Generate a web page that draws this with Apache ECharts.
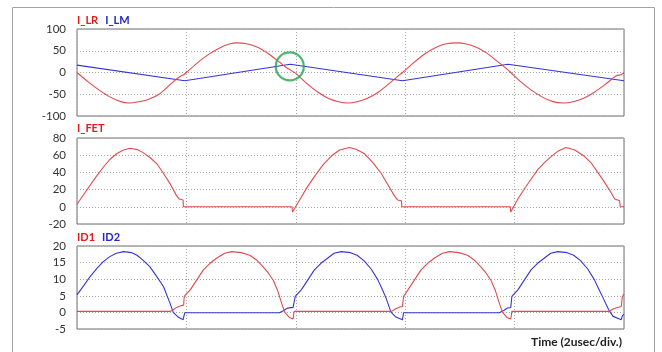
<!DOCTYPE html>
<html>
<head>
<meta charset="utf-8">
<script src="https://cdn.jsdelivr.net/npm/echarts@6/dist/echarts.min.js"></script>
<style>html,body{margin:0;padding:0;background:#fff}#c{width:662px;height:352px}</style>
</head>
<body>
<div id="c"></div>
<script>
// ---- data (time in usec, currents in A) ----
const tLR = [0,0.2,0.4,0.6,0.8,0.95,1.1,1.3,1.5,1.7,1.82,1.9,1.95,2.0,2.2,2.4,2.6,2.8,2.93,3.1,3.3,3.5,3.7,3.82,3.9,3.95,4.0,4.2,4.4,4.6,4.8,4.95,5.1,5.3,5.5,5.7,5.85,5.95,6.15,6.35,6.55,6.75,6.95,7.1,7.3,7.5,7.7,7.85,7.93,8.1,8.3,8.5,8.7,8.9,9.05,9.25,9.45,9.65,9.8,9.87,9.95,10];
const iLR = [0,-21,-40,-56,-67,-70,-68,-62,-50,-28,-15,-8,-5,0,22,41,56,66,68,66,58,43,24,12,6,2,-2,-25,-45,-60,-68,-70,-68,-60,-46,-26,-10,0,22,42,57,66,68,66,58,44,24,9,0,-20,-40,-56,-67,-70,-68,-60,-46,-28,-13,-7,-5,0];

const tLM = [0,1.97,3.9,5.95,7.88,10];
const iLM = [17,-19,19,-19,19,-19];

const markT = [3.89];
const markV = [14];

const tFET = [0,0.12,0.24,0.36,0.48,0.6,0.73,0.85,0.97,1.1,1.21,1.34,1.46,1.58,1.7,1.82,1.87,1.94,1.945,3.93,3.94,4.08,4.2,4.35,4.5,4.65,4.8,4.98,5.1,5.25,5.4,5.56,5.68,5.8,5.86,5.93,5.94,7.92,7.93,8.06,8.18,8.3,8.42,8.54,8.66,8.8,8.94,9.1,9.27,9.4,9.52,9.64,9.76,9.83,9.92,9.93,10];
const iFET = [3,14,25,36,46,55,62,66,68,66.5,63,57,50,39,27,13,9,8,0,0,-6,9,22,36,49,59,66,69,67,62,52,39,26,13,8,7,0,0,-6,9,21,32,43,51,58,65,69,66,59,51,40,29,17,9,7,0,0];

const tD1 = [0,1.7,1.76,1.82,1.9,1.95,1.96,2.07,2.19,2.31,2.43,2.55,2.7,2.83,3.0,3.16,3.28,3.4,3.5,3.59,3.67,3.74,3.8,3.88,3.95,3.97,5.75,5.82,5.9,5.95,5.97,6.05,6.17,6.29,6.41,6.53,6.68,6.81,6.98,7.14,7.26,7.38,7.48,7.57,7.65,7.72,7.78,7.86,7.93,7.95,9.72,9.8,9.88,9.95,9.97,10];
const iD1 = [0.3,0.3,0.8,1.5,2,2.2,4.8,6.8,9.8,12.8,14.8,16.3,17.8,18.3,18,17.2,15.8,13.8,11.8,9.6,6.5,2.8,0,-1.5,-2,0.3,0.3,1,1.6,1.8,4.8,6.8,9.8,12.8,14.8,16.3,17.8,18.3,18,17.2,15.8,13.8,11.8,9.6,6.5,2.8,0,-1.5,-2,0.3,0.3,1,1.5,1.8,4.8,5.5];

const tD2 = [0,0.12,0.24,0.36,0.48,0.6,0.72,0.85,1.0,1.09,1.2,1.33,1.45,1.58,1.7,1.76,1.85,1.94,1.97,3.7,3.78,3.85,3.95,3.99,4.1,4.22,4.34,4.46,4.58,4.7,4.83,5.0,5.12,5.25,5.38,5.5,5.58,5.65,5.74,5.83,5.95,5.97,7.72,7.8,7.87,7.93,7.95,8.06,8.18,8.3,8.42,8.54,8.66,8.79,8.96,9.08,9.21,9.34,9.46,9.54,9.62,9.72,9.8,9.95,9.97,10];
const iD2 = [5.3,8,10.8,13.2,15.3,16.8,17.8,18.3,18,17.3,15.8,13.8,11,7.8,2.8,0,-1.4,-2.2,-0.1,-0.1,0.6,1.3,1.5,4.8,6.8,9.8,12.8,14.8,16.3,17.8,18.3,18,17.2,15.5,13,9.8,7,4.3,0.1,-1.4,-2.2,-0.1,-0.1,0.6,1.3,1.5,4.8,6.8,9.8,12.8,14.8,16.3,17.8,18.3,18,17.2,15.5,13,9.8,7,4.3,0.8,-1.2,-2.2,-1,-0.5];

const yTop = {min:-100, max:100, step:50};
const yMid = {min:-20, max:80, step:20};
const yBot = {min:-5, max:20, step:5};
const xRange = {min:0, max:10, step:2};
const xTitle = 'Time (2usec/div.)';

const zip = (t, v) => t.map((x, i) => [x, v[i]]);

const RED = '#e04a4e', BLUE = '#3535d2';
const TRED = '#e31b1b', TBLUE = '#2424cc';
const FONT = 'Lato';

const grids = [
  {left:77, top:29, width:547, height:87},
  {left:77, top:138, width:547, height:86},
  {left:77, top:246, width:547, height:83}
].map(g => Object.assign(g, {show:true, borderColor:'#6e6e6e', borderWidth:1, backgroundColor:'#fff'}));

const gridLine = {show:true, lineStyle:{color:'#a8a8a8', type:[1,2], width:1}};

const xAxes = [0,1,2].map(i => ({
  type:'value', gridIndex:i, min:xRange.min, max:xRange.max, interval:xRange.step,
  axisLabel:{show:false}, axisTick:{show:false}, axisLine:{show:false}, splitLine:gridLine
}));
const yAxes = [yTop, yMid, yBot].map((r, i) => ({
  type:'value', gridIndex:i, min:r.min, max:r.max, interval:r.step,
  axisLabel:{show:true, color:'#333', fontSize:11.5, fontFamily:FONT, margin:11},
  axisTick:{show:false}, axisLine:{show:false}, splitLine:gridLine
}));

const lineS = (name, data, color, gi, z, smooth) => ({
  name, type:'line', data, xAxisIndex:gi, yAxisIndex:gi, showSymbol:false, symbol:'none',
  smooth: smooth || false,
  lineStyle:{color, width:1.1}, itemStyle:{color}, animation:false, z:z||2, clip:true
});

const titleStyle = {
  rich:{
    r:{color:TRED, fontWeight:'bold', fontSize:11, fontFamily:FONT},
    b:{color:TBLUE, fontWeight:'bold', fontSize:11, fontFamily:FONT, padding:[0,0,0,7]}
  }
};

const option = {
  animation:false,
  backgroundColor:'#fff',
  graphic:[
    {type:'rect', shape:{x:12.5, y:7.5, width:642, height:400}, style:{fill:'none', stroke:'#a3a3a3', lineWidth:1}, z:-10, silent:true},
    {type:'text', x:622, y:342.5, silent:true, z:10,
     style:{text:xTitle, fill:'#222', font:'bold 12px Lato', align:'right', verticalAlign:'middle'}}
  ],
  title:[
    {text:'{r|I_LR}{b|I_LM}', left:77, top:15, padding:0, textStyle:titleStyle},
    {text:'{r|I_FET}', left:77, top:122.5, padding:0, textStyle:titleStyle},
    {text:'{r|ID1}{b|ID2}', left:77, top:232, padding:0, textStyle:titleStyle}
  ],
  grid:grids,
  xAxis:xAxes,
  yAxis:yAxes,
  series:[
    lineS('I_LR', zip(tLR, iLR), RED, 0, 3, 0.25),
    lineS('I_LM', zip(tLM, iLM), BLUE, 0, 2),
    {type:'scatter', xAxisIndex:0, yAxisIndex:0, data:zip(markT, markV), symbol:'circle', symbolSize:28,
     itemStyle:{color:'rgba(0,0,0,0)', borderColor:'#1fa64b', borderWidth:2.2}, z:5, silent:true},
    lineS('I_FET', zip(tFET, iFET), RED, 1, 3),
    lineS('ID1', zip(tD1, iD1), RED, 2, 3),
    lineS('ID2', zip(tD2, iD2), BLUE, 2, 2)
  ]
};

const chart = echarts.init(document.getElementById('c'), null, {renderer:'canvas'});
chart.setOption(option);
</script>
</body>
</html>
